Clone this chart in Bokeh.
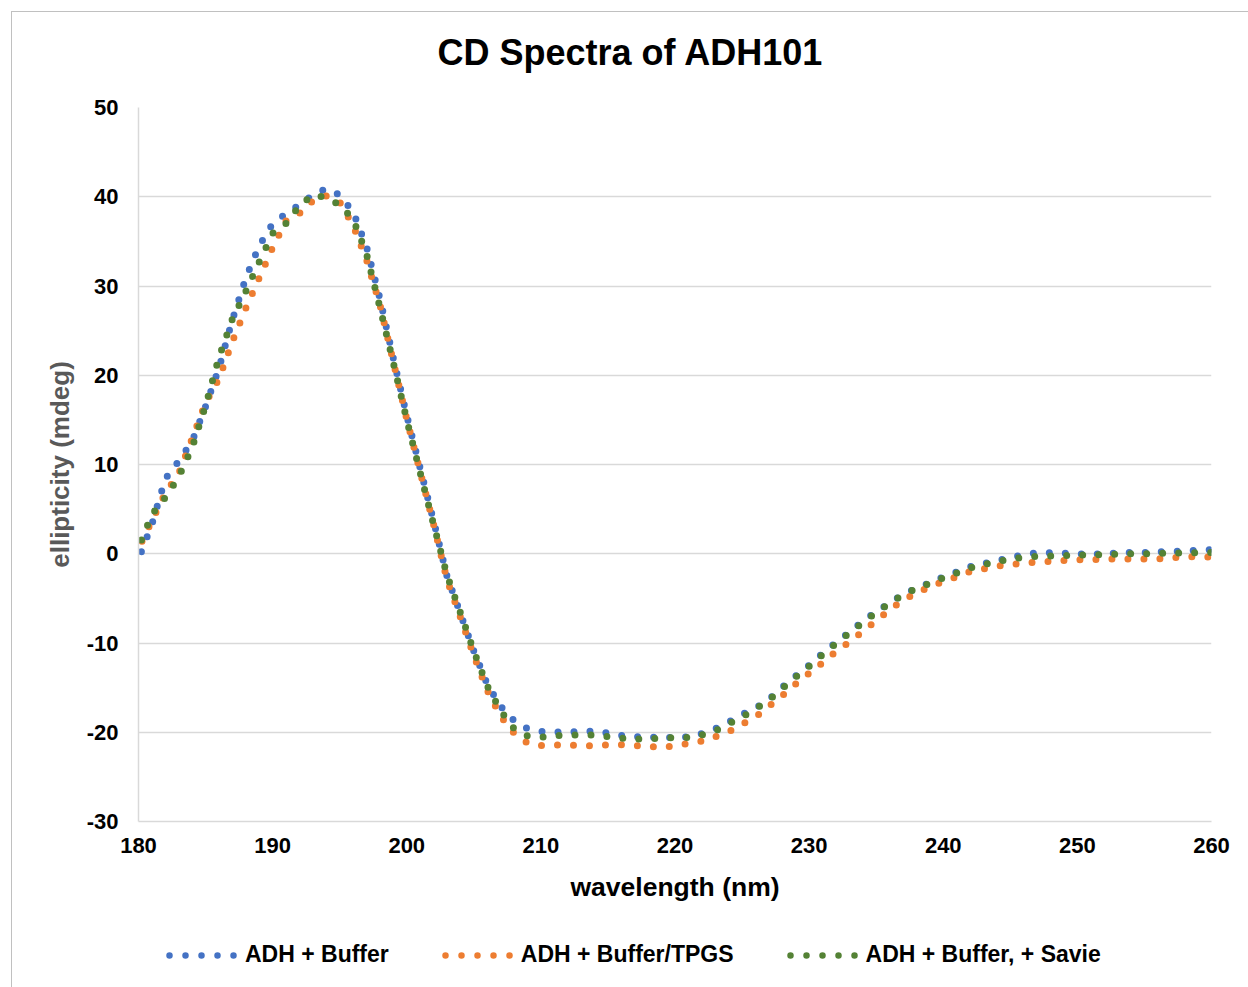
from bokeh.plotting import figure
from bokeh.layouts import column
from bokeh.models import FixedTicker, Legend, LegendItem, Title
from bokeh.embed import file_html
from bokeh.resources import INLINE

# ---------------- data ----------------
wavelength = [180, 181, 182, 183, 184, 185, 186, 187, 188, 189,
              190, 191, 192, 193, 194, 195, 196, 197, 198, 199,
              200, 201, 202, 203, 204, 205, 206, 207, 208, 209,
              210, 211, 212, 213, 214, 215, 216, 217, 218, 219,
              220, 221, 222, 223, 224, 225, 226, 227, 228, 229,
              230, 231, 232, 233, 234, 235, 236, 237, 238, 239,
              240, 241, 242, 243, 244, 245, 246, 247, 248, 249,
              250, 251, 252, 253, 254, 255, 256, 257, 258, 259, 260]

adh_buffer = [-0.6, 3.3, 8.4, 10.4, 12.6, 16.5, 20.8, 26.2, 30.9, 34.5,
              37.0, 38.1, 39.1, 40.2, 40.9, 40.2, 38.3, 34.4, 28.6, 21.9,
              15.5, 9.6, 3.7, -2.5, -6.7, -10.9, -14.6, -17.1, -18.7, -19.6,
              -19.9, -19.95, -20.0, -19.9, -19.9, -20.1, -20.35, -20.5, -20.55, -20.6,
              -20.6, -20.5, -20.15, -19.6, -18.85, -18.0, -17.3, -16.3, -14.95, -13.7,
              -12.5, -11.15, -9.95, -8.8, -7.55, -6.5, -5.5, -4.55, -3.85, -3.25,
              -2.6, -2.05, -1.45, -1.1, -0.75, -0.45, -0.1, 0.1, 0.1, 0.05,
              0.0, -0.05, 0.0, 0.1, 0.15, 0.15, 0.2, 0.25, 0.3, 0.4, 0.45]

adh_buffer_tpgs = [0.6, 3.7, 6.8, 9.0, 12.9, 16.9, 19.6, 23.8, 27.5, 30.9,
                   34.3, 37.3, 38.15, 39.55, 40.1, 39.4, 36.8, 32.95, 27.9, 21.5,
                   15.1, 9.2, 3.3, -2.9, -7.1, -11.4, -15.3, -18.2, -20.1, -21.2,
                   -21.5, -21.45, -21.4, -21.5, -21.5, -21.4, -21.4, -21.5, -21.6, -21.7,
                   -21.5, -21.25, -21.0, -20.5, -19.95, -19.1, -18.3, -17.1, -15.9, -14.6,
                   -13.4, -12.2, -10.95, -9.9, -8.7, -7.5, -6.3, -5.2, -4.4, -3.7,
                   -3.1, -2.6, -2.0, -1.7, -1.4, -1.2, -1.05, -0.95, -0.85, -0.75,
                   -0.68, -0.65, -0.6, -0.6, -0.6, -0.6, -0.58, -0.45, -0.35, -0.32, -0.4]

adh_buffer_savie = [0.7, 4.4, 6.3, 8.6, 11.9, 16.6, 22.0, 26.3, 29.4, 32.7,
                    35.9, 37.0, 39.0, 40.2, 39.9, 39.1, 37.5, 33.6, 27.6, 21.4,
                    15.0, 9.1, 3.3, -2.4, -6.6, -10.9, -14.8, -17.6, -19.6, -20.4,
                    -20.55, -20.4, -20.3, -20.3, -20.3, -20.5, -20.65, -20.75, -20.75, -20.65,
                    -20.6, -20.6, -20.3, -19.85, -19.05, -18.3, -17.4, -16.4, -15.1, -13.8,
                    -12.6, -11.3, -10.05, -8.9, -7.7, -6.6, -5.55, -4.6, -3.9, -3.3,
                    -2.7, -2.15, -1.6, -1.2, -0.9, -0.6, -0.4, -0.3, -0.25, -0.2,
                    -0.15, -0.15, -0.1, -0.05, 0.0, 0.0, 0.05, 0.05, 0.1, 0.1, 0.15]

series_names = ["ADH + Buffer", "ADH + Buffer/TPGS", "ADH + Buffer, + Savie"]
series_values = [adh_buffer, adh_buffer_tpgs, adh_buffer_savie]
series_colors = ["#4472C4", "#ED7D31", "#548235"]

x_ticks = [180, 190, 200, 210, 220, 230, 240, 250, 260]
x_tick_labels = ["180", "190", "200", "210", "220", "230", "240", "250", "260"]
y_ticks = [-30, -20, -10, 0, 10, 20, 30, 40, 50]
y_tick_labels = ["-30", "-20", "-10", "0", "10", "20", "30", "40", "50"]

title_text = "CD Spectra of ADH101"
x_label = "wavelength (nm)"
y_label = "ellipticity (mdeg)"

FONT = "Liberation Sans"
GRID = "#d9d9d9"
BORDER = "1px solid #c0c0c0"

# ---------------- main chart ----------------
p = figure(width=1237, height=919, x_range=(180, 260), y_range=(-30, 50),
           output_backend="svg", toolbar_location=None,
           min_border_left=126, min_border_right=38,
           min_border_top=95, min_border_bottom=110)
p.styles = {"margin-left": "11px", "margin-top": "11px",
            "border-left": BORDER, "border-top": BORDER}
p.background_fill_color = "white"
p.border_fill_color = "white"
p.outline_line_color = None

# blank spacer between the frame and the title (keeps the title high)
spacer = Title(text=" ", text_font=FONT, text_font_size="24px",
               standoff=0, text_color="#ffffff")
p.add_layout(spacer, "above")

p.title.text = title_text
p.title.align = "left"
p.title.offset = 299
p.title.standoff = 12
p.title.text_font = FONT
p.title.text_font_size = "36px"
p.title.text_font_style = "bold"
p.title.text_color = "#000000"

p.xgrid.visible = False
p.ygrid.grid_line_color = GRID
p.ygrid.grid_line_width = 1.5
p.ygrid.ticker = FixedTicker(ticks=y_ticks)

p.xaxis.ticker = FixedTicker(ticks=x_ticks)
p.xaxis.major_label_overrides = {t: s for t, s in zip(x_ticks, x_tick_labels)}
p.yaxis.ticker = FixedTicker(ticks=y_ticks)
p.yaxis.major_label_overrides = {t: s for t, s in zip(y_ticks, y_tick_labels)}

for ax in (p.xaxis, p.yaxis):
    ax.axis_line_color = GRID
    ax.axis_line_width = 1.5
    ax.major_tick_line_color = None
    ax.minor_tick_line_color = None
    ax.major_tick_out = 0
    ax.major_tick_in = 0
    ax.minor_tick_out = 0
    ax.minor_tick_in = 0
    ax.major_label_text_font = FONT
    ax.major_label_text_font_size = "22px"
    ax.major_label_text_font_style = "bold"
    ax.major_label_text_color = "#000000"
    ax.axis_label_text_font = FONT
    ax.axis_label_text_font_style = "bold"

p.xaxis.major_label_standoff = 16
p.xaxis.axis_label = x_label
p.xaxis.axis_label_text_font_size = "26.5px"
p.xaxis.axis_label_text_color = "#000000"
p.xaxis.axis_label_standoff = 16

p.yaxis.major_label_standoff = 20
p.yaxis.axis_label = y_label
p.yaxis.axis_label_text_font_size = "26px"
p.yaxis.axis_label_text_color = "#595959"
p.yaxis.axis_label_standoff = 9

for vals, col in zip(series_values, series_colors):
    p.line(wavelength, vals, line_color=col, line_width=7,
           line_dash="0 16", line_dash_offset=8,
           line_cap="round", line_join="round")

# ---------------- legend strip ----------------
lg = figure(width=1237, height=57, x_range=(0, 1), y_range=(0, 1),
            output_backend="svg", toolbar_location=None,
            x_axis_location=None, y_axis_location=None,
            min_border=0, min_border_left=0, min_border_right=0,
            min_border_top=0, min_border_bottom=0)
lg.styles = {"margin-left": "11px", "border-left": BORDER}
lg.outline_line_color = None
lg.grid.visible = False
lg.background_fill_color = "white"
lg.border_fill_color = "white"

# legend keys: same styling, drawn outside the visible range
legend_renderers = []
for col in series_colors:
    r = lg.line(x=[-5, -4], y=[-5, -5], line_color=col, line_width=6.5,
                line_dash="0 16", line_dash_offset=8,
                line_cap="round", line_join="round")
    legend_renderers.append(r)

items = [LegendItem(label=n, renderers=[r]) for n, r in zip(series_names, legend_renderers)]
legend = Legend(items=items, orientation="horizontal", location=(23, 19),
                glyph_width=80, glyph_height=26, label_height=26,
                label_standoff=4, spacing=48,
                padding=0, margin=0, border_line_color=None,
                background_fill_alpha=0,
                label_text_font=FONT, label_text_font_size="23px",
                label_text_font_style="bold", label_text_color="#000000")
lg.add_layout(legend)

layout = column(p, lg, spacing=0)

open("out.html", "w").write(file_html(layout, INLINE))
